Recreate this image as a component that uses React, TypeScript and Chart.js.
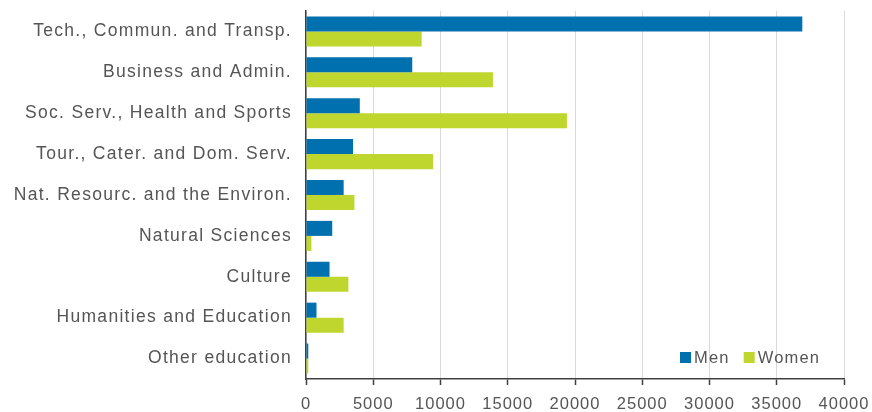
import React, { useEffect, useRef } from "react";
import { Chart, registerables } from "chart.js";

Chart.register(...registerables);

const categories = [
  "Tech., Commun. and Transp.",
  "Business and Admin.",
  "Soc. Serv., Health and Sports",
  "Tour., Cater. and Dom. Serv.",
  "Nat. Resourc. and the Environ.",
  "Natural Sciences",
  "Culture",
  "Humanities and Education",
  "Other education",
];
const menValues = [36900, 7900, 4000, 3500, 2800, 1950, 1750, 780, 170];
const womenValues = [8600, 13900, 19400, 9450, 3600, 400, 3150, 2800, 170];
const xTicks = [0, 5000, 10000, 15000, 20000, 25000, 30000, 35000, 40000];
const seriesNames = ["Men", "Women"];
const seriesColors = ["#0070af", "#bfd62f"];

const FONT = "'Liberation Sans', Arial, sans-serif";
const TEXT = "#555555";

function spaceLabels(spacing: string) {
  return (s: any) => {
    if (s._lsWrapped) return;
    const orig = s.drawLabels.bind(s);
    s.drawLabels = (area: any) => {
      const ctx = s.ctx;
      ctx.save();
      ctx.letterSpacing = spacing;
      orig(area);
      ctx.restore();
    };
    s._lsWrapped = true;
  };
}

const legendPlugin = {
  id: "innerLegend",
  afterDraw(chart: any) {
    const ctx = chart.ctx;
    const area = chart.chartArea;
    ctx.save();
    ctx.font = `16.5px ${FONT}`;
    ctx.letterSpacing = "1.2px";
    ctx.textBaseline = "middle";
    ctx.textAlign = "left";
    const y = area.bottom - 22;
    let x = area.right - 164;
    seriesNames.forEach((name, i) => {
      ctx.fillStyle = seriesColors[i];
      ctx.fillRect(x, y - 5, 11, 11);
      x += 14;
      ctx.fillStyle = TEXT;
      ctx.fillText(name, x, y + 1);
      x += ctx.measureText(name).width + 14;
    });
    ctx.restore();
  },
};

export default function App() {
  const ref = useRef<HTMLCanvasElement | null>(null);
  useEffect(() => {
    if (!ref.current) return;
    const chart = new Chart(ref.current, {
      type: "bar",
      data: {
        labels: categories,
        datasets: [
          { label: seriesNames[0], data: menValues, backgroundColor: seriesColors[0] },
          { label: seriesNames[1], data: womenValues, backgroundColor: seriesColors[1] },
        ],
      },
      options: {
        indexAxis: "y",
        animation: false,
        responsive: false,
        maintainAspectRatio: false,
        layout: { padding: { left: 0, right: 28, top: 11, bottom: 0 } },
        datasets: { bar: { barPercentage: 1, categoryPercentage: 0.735 } },
        plugins: { legend: { display: false }, tooltip: { enabled: false } },
        scales: {
          x: {
            min: 0,
            max: 40000,
            afterBuildTicks: (s: any) => {
              s.ticks = xTicks.map((v) => ({ value: v }));
            },
            afterFit: (s: any) => {
              s.height = 33;
              s.paddingLeft = 0;
              s.paddingRight = 0;
            },
            afterUpdate: spaceLabels("1px"),
            grid: { color: "#d9d9d9", lineWidth: 1, tickLength: 6, tickColor: "#404040", tickWidth: 1.5 },
            border: { display: true, color: "#404040", width: 1.5 },
            ticks: {
              color: TEXT,
              font: { family: FONT, size: 16.5 },
              padding: 10,
              maxRotation: 0,
              callback: (v: any) => String(v),
            },
          },
          y: {
            afterFit: (s: any) => {
              s.width = 306;
              s.paddingTop = 0;
              s.paddingBottom = 0;
            },
            afterUpdate: spaceLabels("1.3px"),
            grid: { display: false, drawTicks: false },
            border: { display: true, color: "#404040", width: 1.5 },
            ticks: { color: TEXT, font: { family: FONT, size: 17.5 }, padding: 14 },
          },
        },
      },
      plugins: [legendPlugin],
    });
    return () => chart.destroy();
  }, []);
  return (
    <div style={{ position: "absolute", left: 0, top: 0, width: 872, height: 412, background: "#fff" }}>
      <canvas ref={ref} width={872} height={412} style={{ width: 872, height: 412 }} />
    </div>
  );
}
